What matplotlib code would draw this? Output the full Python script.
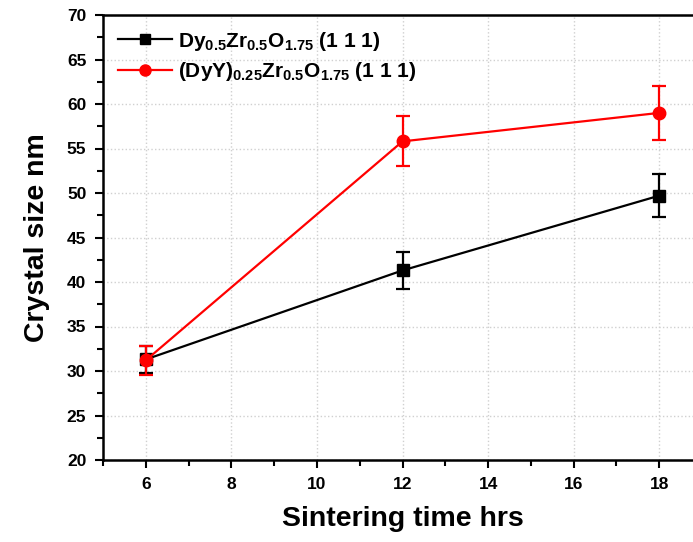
import matplotlib
matplotlib.use("Agg")
import matplotlib.pyplot as plt
from matplotlib.ticker import MultipleLocator
from matplotlib.lines import Line2D

plt.rcParams['font.family'] = ['Liberation Sans', 'DejaVu Sans']
plt.rcParams['font.weight'] = 'bold'
plt.rcParams['mathtext.fontset'] = 'custom'
plt.rcParams['mathtext.rm'] = 'Liberation Sans:bold'
plt.rcParams['mathtext.bf'] = 'Liberation Sans:bold'
plt.rcParams['mathtext.it'] = 'Liberation Sans:bold'

time_hrs = [6, 12, 18]
dy_size = [31.3, 41.3, 49.7]
dy_err = [1.5, 2.05, 2.45]
dyy_size = [31.2, 55.8, 59.0]
dyy_err = [1.6, 2.8, 3.0]

label_dy = r'$\mathbf{Dy_{0.5}Zr_{0.5}O_{1.75}}$ (1 1 1)'
label_dyy = r'$\mathbf{(DyY)_{0.25}Zr_{0.5}O_{1.75}}$ (1 1 1)'

fig = plt.figure(figsize=(6.93, 5.42), dpi=100)
ax = fig.add_axes([103/693, 82/542, 599/693, 445/542])

ax.errorbar(time_hrs, dy_size, yerr=dy_err, color='black', marker='s', ms=8,
            lw=1.6, elinewidth=1.6, capsize=5, capthick=1.6, zorder=3)
ax.errorbar(time_hrs, dyy_size, yerr=dyy_err, color='#ff0000', marker='o', ms=9,
            lw=1.6, elinewidth=1.6, capsize=5, capthick=1.6, zorder=4)

ax.set_xlim(5, 19)
ax.set_ylim(20, 70)
ax.xaxis.set_minor_locator(MultipleLocator(1))
ax.yaxis.set_major_locator(MultipleLocator(5))
ax.yaxis.set_minor_locator(MultipleLocator(2.5))
ax.set_xticks([6, 8, 10, 12, 14, 16, 18])
ax.tick_params(which='major', direction='out', length=6, width=1.5, labelsize=12.5, pad=6)
ax.tick_params(which='minor', direction='out', length=4, width=1.5)
for lab in ax.get_xticklabels() + ax.get_yticklabels():
    lab.set_fontweight('bold')

ax.grid(True, which='major', linestyle=':', color='#d0d0d0', linewidth=1.0)
ax.set_axisbelow(True)
for s in ['left', 'bottom', 'top']:
    ax.spines[s].set_linewidth(1.8)
ax.spines['right'].set_visible(False)

ax.set_xlabel('Sintering time hrs', fontsize=20.5, fontweight='bold', labelpad=10)
ax.set_ylabel('Crystal size nm', fontsize=20.5, fontweight='bold', labelpad=12)

handles = [Line2D([], [], color='black', marker='s', ms=7, lw=1.6),
           Line2D([], [], color='#ff0000', marker='o', ms=8, lw=1.6)]
ax.legend(handles, [label_dy, label_dyy], loc='upper left', frameon=False,
          fontsize=15, handlelength=2.6, handletextpad=0.3, borderaxespad=0.3,
          labelspacing=0.35)

fig.savefig('out.png', dpi=100)
